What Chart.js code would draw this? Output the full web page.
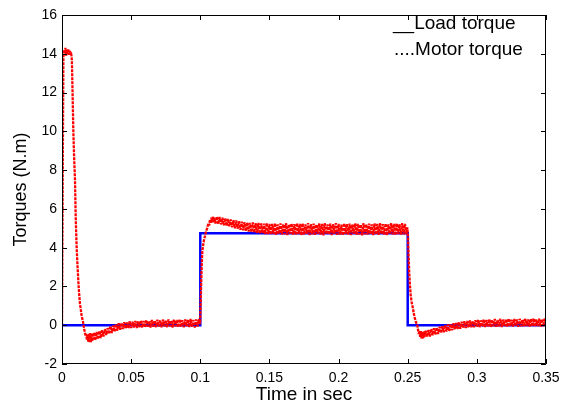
<!DOCTYPE html>
<html><head><meta charset="utf-8">
<script src="https://cdn.jsdelivr.net/npm/chart.js@4/dist/chart.umd.min.js"></script>
<style>html,body{margin:0;padding:0;background:#fff;overflow:hidden;}</style>
</head><body>
<canvas id="c" width="568" height="406"></canvas>
<script>
const xTicks = [0, 0.05, 0.1, 0.15, 0.2, 0.25, 0.3, 0.35];
const xTickLabels = ['0', '0.05', '0.1', '0.15', '0.2', '0.25', '0.3', '0.35'];
const yTicks = [-2, 0, 2, 4, 6, 8, 10, 12, 14, 16];
const yTickLabels = ['-2', '0', '2', '4', '6', '8', '10', '12', '14', '16'];

const seriesNames = ['Load torque', 'Motor torque'];
const legendPrefixes = ['__', '....'];

const loadTime = [0, 0.1, 0.1, 0.25, 0.25, 0.35];
const loadTorque = [0, 0, 4.75, 4.75, 0, 0];

// motor torque as [time, torque] pairs
const motorStart = [[0,0],[0.0005,7.5],[0.001,13.8],[0.0015,14.2],[0.002,14.0],[0.0025,14.3],[0.003,13.9],[0.0035,14.2],[0.004,14.0],[0.0045,14.25],[0.005,13.95],[0.0055,14.15],[0.006,14.0],[0.0065,14.1],[0.007,13.8],[0.0072,13.5],[0.0077,11.8],[0.0082,10.0],[0.0088,8.6],[0.0094,7.5],[0.0099,5.6],[0.0106,4.0],[0.0112,3.1],[0.0118,2.3],[0.0124,1.6],[0.013,1.1],[0.0142,0.5],[0.0154,0.1],[0.016,-0.2],[0.0165,-0.35],[0.017,-0.55],[0.0175,-0.45],[0.018,-0.75],[0.0185,-0.5],[0.019,-0.85],[0.0195,-0.45],[0.02,-0.9],[0.0205,-0.4],[0.021,-0.88],[0.0215,-0.42],[0.022,-0.82]];
const motorRest1 = [[0.023,-0.38],[0.024,-0.78],[0.025,-0.35],[0.026,-0.72],[0.027,-0.3],[0.028,-0.66],[0.029,-0.26],[0.030,-0.58],[0.031,-0.2],[0.032,-0.5],[0.033,-0.15],[0.034,-0.45],[0.035,-0.05],[0.036,-0.4],[0.037,-0.02],[0.038,-0.33],[0.039,0.06],[0.040,-0.28],[0.041,0.1],[0.042,-0.24],[0.043,0.12],[0.044,-0.2],[0.045,0.15],[0.046,-0.18],[0.047,0.14],[0.048,-0.16],[0.049,0.2],[0.050,-0.15],[0.051,0.18],[0.052,-0.12],[0.053,0.22],[0.054,-0.14],[0.055,0.2],[0.056,-0.1],[0.057,0.24],[0.058,-0.12],[0.059,0.22],[0.060,-0.1],[0.061,0.26],[0.062,-0.08],[0.063,0.22],[0.064,-0.12],[0.065,0.27],[0.066,-0.08],[0.067,0.24],[0.068,-0.1],[0.069,0.28],[0.070,-0.07],[0.071,0.25],[0.072,-0.11],[0.073,0.29],[0.074,-0.06],[0.075,0.26],[0.076,-0.1],[0.077,0.3],[0.078,-0.07],[0.079,0.24],[0.080,-0.12],[0.081,0.28],[0.082,-0.06],[0.083,0.27],[0.084,-0.1],[0.085,0.31],[0.086,-0.08],[0.087,0.26],[0.088,-0.11],[0.089,0.3],[0.090,-0.06],[0.091,0.28],[0.092,-0.1],[0.093,0.32],[0.094,-0.08],[0.095,0.27],[0.096,-0.12],[0.097,0.3],[0.098,-0.07],[0.099,0.32],[0.0997,0.05]];
const motorRise = [[0.1,0.3],[0.1003,1.2],[0.1006,2.0],[0.101,3.0],[0.1015,3.8],[0.102,4.1],[0.1027,4.4],[0.1034,4.6],[0.1042,4.85],[0.105,5.0],[0.1058,5.25],[0.1065,5.15],[0.107,5.45],[0.1075,5.25],[0.108,5.55],[0.1085,5.3],[0.109,5.6],[0.1095,5.3],[0.11,5.55]];
const motorPlateau = [[0.111,5.25],[0.112,5.6],[0.113,5.22],[0.114,5.58],[0.115,5.2],[0.116,5.55],[0.117,5.15],[0.118,5.52],[0.119,5.12],[0.120,5.48],[0.121,5.1],[0.122,5.45],[0.123,5.05],[0.124,5.42],[0.125,5.0],[0.126,5.4],[0.127,4.98],[0.128,5.36],[0.129,4.92],[0.130,5.34],[0.131,4.9],[0.132,5.32],[0.133,4.86],[0.134,5.3],[0.135,4.83],[0.136,5.28],[0.137,4.8],[0.138,5.3],[0.139,4.78],[0.140,5.26],[0.141,4.76],[0.142,5.28],[0.143,4.72],[0.144,5.25],[0.145,4.74],[0.146,5.24],[0.147,4.7],[0.148,5.27],[0.149,4.7],[0.150,5.23],[0.151,4.68],[0.152,5.22],[0.153,4.7],[0.154,5.26],[0.155,4.66],[0.156,5.2],[0.157,4.72],[0.158,5.25],[0.159,4.67],[0.160,5.21],[0.161,4.69],[0.162,5.27],[0.163,4.65],[0.164,5.2],[0.165,4.71],[0.166,5.24],[0.167,4.68],[0.168,5.21],[0.169,4.66],[0.170,5.26],[0.171,4.7],[0.172,5.22],[0.173,4.64],[0.174,5.25],[0.175,4.68],[0.176,5.2],[0.177,4.71],[0.178,5.27],[0.179,4.65],[0.180,5.21],[0.181,4.69],[0.182,5.24],[0.183,4.66],[0.184,5.19],[0.185,4.72],[0.186,5.25],[0.187,4.67],[0.188,5.22],[0.189,4.64],[0.190,5.26],[0.191,4.7],[0.192,5.2],[0.193,4.68],[0.194,5.24],[0.195,4.65],[0.196,5.21],[0.197,4.71],[0.198,5.27],[0.199,4.66],[0.200,5.22],[0.201,4.68],[0.202,5.19],[0.203,4.64],[0.204,5.25],[0.205,4.7],[0.206,5.21],[0.207,4.67],[0.208,5.24],[0.209,4.65],[0.210,5.2],[0.211,4.71],[0.212,5.25],[0.213,4.66],[0.214,5.22],[0.215,4.68],[0.216,5.19],[0.217,4.64],[0.218,5.26],[0.219,4.69],[0.220,5.21],[0.221,4.67],[0.222,5.24],[0.223,4.7],[0.224,5.2],[0.225,4.65],[0.226,5.25],[0.227,4.68],[0.228,5.22],[0.229,4.66],[0.230,5.27],[0.231,4.7],[0.232,5.21],[0.233,4.67],[0.234,5.24],[0.235,4.64],[0.236,5.2],[0.237,4.71],[0.238,5.26],[0.239,4.68],[0.240,5.22],[0.241,4.65],[0.242,5.25],[0.243,4.7],[0.244,5.21],[0.245,4.67],[0.246,5.27],[0.247,4.68],[0.248,5.23],[0.249,4.7],[0.2497,5.05]];
const motorFall = [[0.2502,4.6],[0.2505,3.9],[0.2508,3.3],[0.2511,2.7],[0.2516,2.1],[0.2521,1.6],[0.2528,1.2],[0.2536,0.94],[0.2544,0.6],[0.2552,0.35],[0.256,0.15],[0.2569,0.0],[0.2575,-0.25],[0.258,-0.45],[0.2585,-0.3],[0.259,-0.6],[0.2595,-0.3],[0.26,-0.7],[0.2605,-0.35],[0.261,-0.68],[0.2615,-0.32],[0.262,-0.62]];
const motorRest2 = [[0.263,-0.28],[0.264,-0.6],[0.265,-0.25],[0.266,-0.58],[0.267,-0.2],[0.268,-0.52],[0.269,-0.15],[0.270,-0.48],[0.271,-0.12],[0.272,-0.45],[0.273,-0.08],[0.274,-0.4],[0.275,-0.05],[0.276,-0.36],[0.277,0.0],[0.278,-0.32],[0.279,0.04],[0.280,-0.3],[0.281,0.06],[0.282,-0.26],[0.283,0.1],[0.284,-0.22],[0.285,0.12],[0.286,-0.2],[0.287,0.16],[0.288,-0.18],[0.289,0.18],[0.290,-0.15],[0.291,0.2],[0.292,-0.14],[0.293,0.22],[0.294,-0.12],[0.295,0.24],[0.296,-0.1],[0.297,0.22],[0.298,-0.11],[0.299,0.26],[0.300,-0.08],[0.301,0.28],[0.302,-0.1],[0.303,0.25],[0.304,-0.07],[0.305,0.3],[0.306,-0.09],[0.307,0.27],[0.308,-0.06],[0.309,0.31],[0.310,-0.1],[0.311,0.28],[0.312,-0.05],[0.313,0.32],[0.314,-0.08],[0.315,0.27],[0.316,-0.06],[0.317,0.33],[0.318,-0.09],[0.319,0.29],[0.320,-0.04],[0.321,0.31],[0.322,-0.08],[0.323,0.34],[0.324,-0.05],[0.325,0.28],[0.326,-0.07],[0.327,0.32],[0.328,-0.04],[0.329,0.3],[0.330,-0.08],[0.331,0.33],[0.332,-0.05],[0.333,0.29],[0.334,-0.06],[0.335,0.34],[0.336,-0.04],[0.337,0.3],[0.338,-0.07],[0.339,0.32],[0.340,-0.05],[0.341,0.35],[0.342,-0.06],[0.343,0.3],[0.344,-0.04],[0.345,0.33],[0.346,-0.07],[0.347,0.31],[0.348,-0.05],[0.349,0.34],[0.350,0.1]];

const motorSamples = [].concat(motorStart, motorRest1, motorRise, motorPlateau, motorFall, motorRest2);
const loadData = loadTime.map((t, i) => ({x: t, y: loadTorque[i]}));
const motorData = motorSamples.map(p => ({x: p[0], y: p[1]}));

const FONT = 'Liberation Sans, Arial, sans-serif';

const boxPlugin = {
  id: 'boxTicks',
  afterDraw(chart) {
    const ctx = chart.ctx, a = chart.chartArea;
    const xs = chart.scales.x, ys = chart.scales.y;
    const L = 5;
    ctx.save();
    ctx.strokeStyle = '#000';
    ctx.lineWidth = 1;
    ctx.beginPath();
    ctx.rect(a.left + 0.5, a.top + 0.5, a.right - a.left - 1, a.bottom - a.top - 1);
    xTicks.forEach(v => {
      const px = Math.round(xs.getPixelForValue(v)) + 0.5;
      ctx.moveTo(px, a.bottom); ctx.lineTo(px, a.bottom - L);
      ctx.moveTo(px, a.top); ctx.lineTo(px, a.top + L);
    });
    yTicks.forEach(v => {
      const py = Math.round(ys.getPixelForValue(v)) + 0.5;
      ctx.moveTo(a.left, py); ctx.lineTo(a.left + L, py);
      ctx.moveTo(a.right, py); ctx.lineTo(a.right - L, py);
    });
    ctx.stroke();
    // legend text
    ctx.fillStyle = '#000';
    ctx.font = '19px ' + FONT;
    ctx.textBaseline = 'middle';
    ctx.textAlign = 'left';
    const lx = a.right - 153;
    ctx.fillText(legendPrefixes[0] + seriesNames[0], lx, a.top + 9);
    ctx.fillText(legendPrefixes[1] + seriesNames[1], lx + 1, a.top + 35);
    ctx.restore();
  }
};

new Chart(document.getElementById('c'), {
  type: 'line',
  data: {
    datasets: [
      { label: seriesNames[1], data: motorData, borderColor: '#ff0000', borderWidth: 2.3,
        borderDash: [3, 1], borderJoinStyle: 'bevel', borderCapStyle: 'butt',
        pointRadius: 0, tension: 0, order: 1 },
      { label: seriesNames[0], data: loadData, borderColor: '#0000ff', borderWidth: 2.5,
        pointRadius: 0, tension: 0, order: 2 }
    ]
  },
  options: {
    responsive: false,
    animation: false,
    devicePixelRatio: 1,
    layout: { padding: { left: 0, top: 15, right: 22, bottom: 0 } },
    plugins: { legend: { display: false }, tooltip: { enabled: false } },
    scales: {
      x: {
        type: 'linear', min: 0, max: 0.35,
        afterBuildTicks: s => { s.ticks = xTicks.map(v => ({value: v})); },
        afterFit: s => { s.height = 42; },
        grid: { display: false, drawTicks: false },
        border: { display: false },
        ticks: { padding: 6, color: '#000', font: { family: FONT, size: 14 },
          maxRotation: 0, autoSkip: false,
          callback: (v, i) => xTickLabels[i] },
        title: { display: true, text: 'Time in sec', color: '#000',
          font: { family: FONT, size: 19 }, padding: { top: 0, bottom: 0 } }
      },
      y: {
        type: 'linear', min: -2, max: 16,
        afterBuildTicks: s => { s.ticks = yTicks.map(v => ({value: v})); },
        afterFit: s => { s.width = 62; },
        grid: { display: false, drawTicks: false },
        border: { display: false },
        ticks: { padding: 5, color: '#000', font: { family: FONT, size: 14 },
          autoSkip: false, callback: (v, i) => yTickLabels[i] },
        title: { display: true, text: 'Torques (N.m)', color: '#000',
          font: { family: FONT, size: 18 }, padding: { top: 10, bottom: 0 } }
      }
    }
  },
  plugins: [boxPlugin]
});
</script>
</body></html>
